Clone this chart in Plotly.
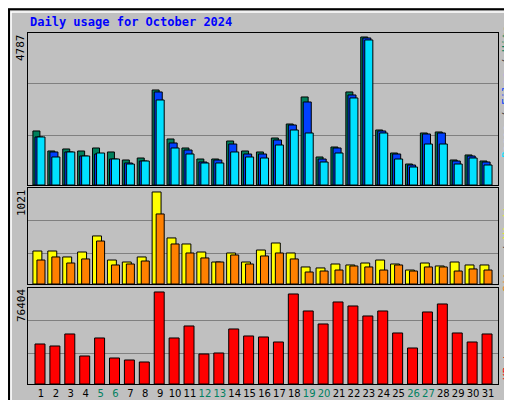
import plotly.graph_objects as go

days = list(range(1, 32))
hits = [1747,1100,1165,1100,1197,1068,809,873,3073,1488,1197,841,841,1423,1100,1068,1520,1973,2847,906,1229,3009,4787,1779,1035,679,1682,1715,809,971,776]
files = [1553,1068,1068,938,1003,841,712,776,3009,1359,1132,744,809,1326,1003,1003,1456,1941,2685,841,1197,2912,4755,1747,1003,647,1650,1682,776,938,744]
pages = [1553,906,1068,938,1035,841,679,776,2750,1197,1003,712,712,1068,906,873,1294,1779,1682,744,1035,2815,4691,1682,841,582,1326,1326,679,873,647]
visits = [366,366,300,355,533,266,244,300,1021,511,444,355,244,344,244,377,455,344,189,178,222,211,233,266,222,155,233,200,244,211,211]
sites = [266,300,233,278,477,211,222,255,777,444,344,289,244,322,222,311,344,278,133,144,155,200,189,155,211,144,189,189,144,167,155]
kbytes = [33220,31559,41525,23254,38203,21593,19932,18271,76404,38203,48169,24915,25746,45678,39864,39034,34881,74745,60627,49830,68101,64779,56474,60627,42356,29898,59796,66440,42356,34881,41525]
weekends = [5,6,12,13,19,20,26,27]
ticktext = [f"<span style='color:#008060'>{d}</span>" if d in weekends else str(d) for d in days]

fig = go.Figure()
def bar(y, color, off, w, xa, ya):
    fig.add_trace(go.Bar(x=days, y=y, offset=off, width=w, marker=dict(color=color, line=dict(color="black", width=1)),
                         xaxis=xa, yaxis=ya, showlegend=False, hoverinfo="skip"))
bar(hits, "#00805C", -0.54, 0.47, "x", "y")
bar(files, "#0040FF", -0.40, 0.54, "x", "y")
bar(pages, "#00E0FF", -0.27, 0.54, "x", "y")
bar(visits, "#FFFF00", -0.54, 0.6, "x2", "y2")
bar(sites, "#FF8000", -0.27, 0.54, "x2", "y2")
bar(kbytes, "#FF0000", -0.4, 0.67, "x3", "y3")

xr = [0.13, 31.67]
xd = [20/512, 490/512]
common_x = dict(range=xr, domain=xd, showgrid=False, zeroline=False, showline=True, linecolor="black", mirror=True, ticks="")
fig.update_layout(
    width=512, height=400, margin=dict(l=0, r=0, t=0, b=0),
    paper_bgcolor="#C0C0C0", plot_bgcolor="#C0C0C0", barmode="overlay",
    font=dict(family="DejaVu Sans Mono", size=11, color="black"),
    xaxis=dict(**common_x, showticklabels=False, anchor="y"),
    xaxis2=dict(**common_x, showticklabels=False, anchor="y2"),
    xaxis3=dict(**common_x, anchor="y3", tickvals=days, ticktext=ticktext, tickangle=0,
                tickfont=dict(size=10, family="DejaVu Sans")),
    yaxis=dict(domain=[1-177/400, 1-25/400], range=[0, 4916], tickvals=[1617, 3267], showticklabels=False,
               gridcolor="#808080", zeroline=False, showline=True, linecolor="black", mirror=True, anchor="x"),
    yaxis2=dict(domain=[1-276/400, 1-180/400], range=[0, 1065], tickvals=[333, 699], showticklabels=False,
                gridcolor="#808080", zeroline=False, showline=True, linecolor="black", mirror=True, anchor="x2"),
    yaxis3=dict(domain=[1-376/400, 1-280/400], range=[0, 79700], tickvals=[24915, 52322], showticklabels=False,
                gridcolor="#808080", zeroline=False, showline=True, linecolor="black", mirror=True, anchor="x3"),
    shapes=[
        dict(type="rect", xref="paper", yref="paper", x0=0.002, y0=0.003, x1=0.998, y1=0.997, line=dict(color="black", width=2)),
        dict(type="rect", xref="paper", yref="paper", x0=0.006, y0=0.008, x1=0.99, y1=0.99, line=dict(color="white", width=1.5)),
    ],
    annotations=[
        dict(text="<b>Daily usage for October 2024</b>", x=20/512, y=1-14/400, xref="paper", yref="paper",
             xanchor="left", yanchor="middle", showarrow=False, font=dict(color="#0000FF", size=12)),
        dict(text="4787", textangle=-90, x=13/512, y=1-40/400, xref="paper", yref="paper", showarrow=False,
             xanchor="center", yanchor="middle"),
        dict(text="1021", textangle=-90, x=13/512, y=1-195/400, xref="paper", yref="paper", showarrow=False,
             xanchor="center", yanchor="middle"),
        dict(text="76404", textangle=-90, x=13/512, y=1-298/400, xref="paper", yref="paper", showarrow=False,
             xanchor="center", yanchor="middle"),
        dict(text="<span style='color:#00E0FF'>Pages</span> / <span style='color:#0040FF'>Files</span> / <span style='color:#00805C'>Hits</span>",
             textangle=-90, x=499/512, y=1-84/400, xref="paper", yref="paper", showarrow=False,
             xanchor="center", yanchor="middle", font=dict(color="#404040")),
        dict(text="<span style='color:#FF8000'>Sites</span> / <span style='color:#FFFF00'>Visits</span>",
             textangle=-90, x=499/512, y=1-238/400, xref="paper", yref="paper", showarrow=False,
             xanchor="center", yanchor="middle", font=dict(color="#404040")),
        dict(text="KBytes", textangle=-90, x=499/512, y=1-352/400, xref="paper", yref="paper", showarrow=False,
             xanchor="center", yanchor="middle", font=dict(color="#FF0000")),
    ],
)
fig.write_html("out.html")
